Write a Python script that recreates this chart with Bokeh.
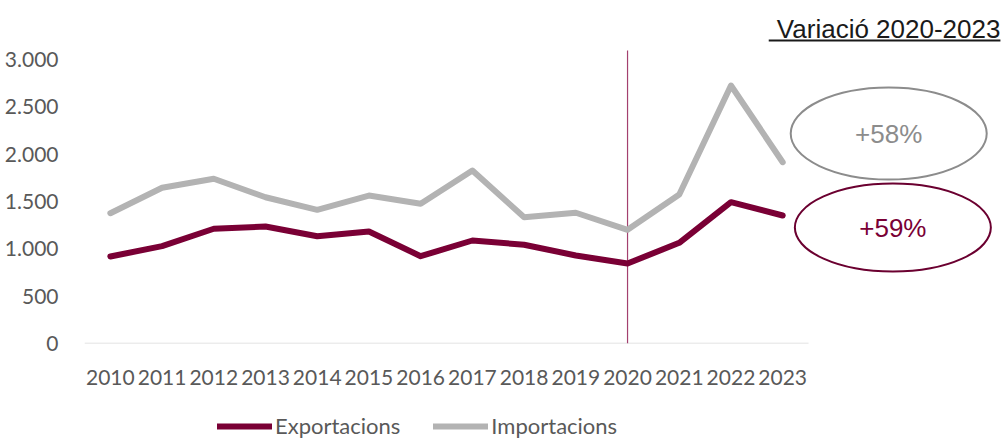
from bokeh.plotting import figure
from bokeh.models import FixedTicker, Range1d, Legend, LegendItem
from bokeh.layouts import column
from bokeh.core.properties import value
from bokeh.embed import file_html
from bokeh.resources import INLINE

years = ["2010", "2011", "2012", "2013", "2014", "2015", "2016",
         "2017", "2018", "2019", "2020", "2021", "2022", "2023"]
exportacions = [919, 1028, 1212, 1236, 1133, 1183, 922, 1088, 1043, 930, 845, 1064, 1493, 1352]
importacions = [1376, 1645, 1740, 1545, 1412, 1563, 1476, 1827, 1334, 1381, 1201, 1574, 2725, 1915]
y_ticks = [0, 500, 1000, 1500, 2000, 2500, 3000]
y_labels = ["0", "500", "1.000", "1.500", "2.000", "2.500", "3.000"]
series_names = ["Exportacions", "Importacions"]
title_text = "Variació 2020-2023"
var_labels = ["+58%", "+59%"]
ref_year = "2020"

MAROON = "#7a0035"
GRAY = "#b3b3b3"
TXT = "#595959"

xs = list(range(len(years)))

p = figure(width=1002, height=400, output_backend="svg", toolbar_location=None,
           x_range=Range1d(-0.5, 17.25), y_range=Range1d(0, 3623),
           min_border_left=84, min_border_right=0, min_border_top=0, min_border_bottom=57)
p.outline_line_color = None
p.grid.visible = False
p.background_fill_color = None
p.border_fill_color = "white"

# axes
p.xaxis.ticker = FixedTicker(ticks=xs)
p.xaxis.major_label_overrides = {i: y for i, y in enumerate(years)}
p.yaxis.ticker = FixedTicker(ticks=y_ticks)
p.yaxis.major_label_overrides = {t: l for t, l in zip(y_ticks, y_labels)}
for ax in (p.xaxis, p.yaxis):
    ax.axis_line_color = None
    ax.major_tick_line_color = None
    ax.minor_tick_line_color = None
    ax.major_label_text_font = "Lato"
    ax.major_label_text_font_size = "21px"
    ax.major_label_text_color = TXT
p.yaxis.major_label_standoff = 20
p.xaxis.major_label_standoff = 20

# baseline (category axis line)
p.segment(x0=[-0.5], y0=[0], x1=[len(years) - 0.5], y1=[0], line_color="#d9d9d9", line_width=1.5)

# 2020 reference line
ri = years.index(ref_year)
p.segment(x0=[ri], y0=[0], x1=[ri], y1=[3095], line_color="#a3406f", line_width=1.2)

p.line(xs, exportacions, line_color=MAROON, line_width=6, line_join="round", line_cap="round")
p.line(xs, importacions, line_color=GRAY, line_width=6, line_join="round", line_cap="round")

# variation ellipses
p.ellipse(x=[15.05], y=[2218], width=196, height=92, width_units="screen", height_units="screen",
          fill_color=None, line_color="#8c8c8c", line_width=2)
p.ellipse(x=[15.13], y=[1225], width=196, height=88, width_units="screen", height_units="screen",
          fill_color=None, line_color="#6b0030", line_width=2)
p.text(x=[15.05], y=[2218], text=[var_labels[0]], text_align="center", text_baseline="middle",
       text_font=value("Liberation Sans"), text_font_size="26px", text_color="#8c8c8c")
p.text(x=[15.13], y=[1225], text=[var_labels[1]], text_align="center", text_baseline="middle",
       text_font=value("Liberation Sans"), text_font_size="26px", text_color=MAROON)

# title (underlined)
p.text(x=[17.21], y=[3327], text=[title_text], text_align="right", text_baseline="middle",
       text_font=value("Liberation Sans"), text_font_size="26px", text_color="#1a1a1a")
p.segment(x0=[12.73], y0=[3201], x1=[17.21], y1=[3201], line_color="#1a1a1a", line_width=2)

# legend strip (series drawn off-range so only legend glyphs show)
lg = figure(width=1002, height=39, output_backend="svg", toolbar_location=None,
            x_range=Range1d(-1000, -999), y_range=Range1d(-1000, -999),
            min_border_left=0, min_border_right=0, min_border_top=0, min_border_bottom=0)
lg.axis.visible = False
lg.grid.visible = False
lg.outline_line_color = None
r_exp = lg.line(xs, exportacions, line_color=MAROON, line_width=6, line_cap="round")
r_imp = lg.line(xs, importacions, line_color=GRAY, line_width=6, line_cap="round")
legend = Legend(items=[LegendItem(label=series_names[0], renderers=[r_exp]),
                       LegendItem(label=series_names[1], renderers=[r_imp])],
                orientation="horizontal", location=(133, 0),
                glyph_width=55, glyph_height=20, label_standoff=3, spacing=33,
                padding=0, margin=0, border_line_color=None, background_fill_alpha=0,
                label_text_font="Lato", label_text_font_size="22px", label_text_color=TXT)
lg.add_layout(legend, "center")

layout = column(p, lg, spacing=0)
open("out.html", "w").write(file_html(layout, INLINE))
